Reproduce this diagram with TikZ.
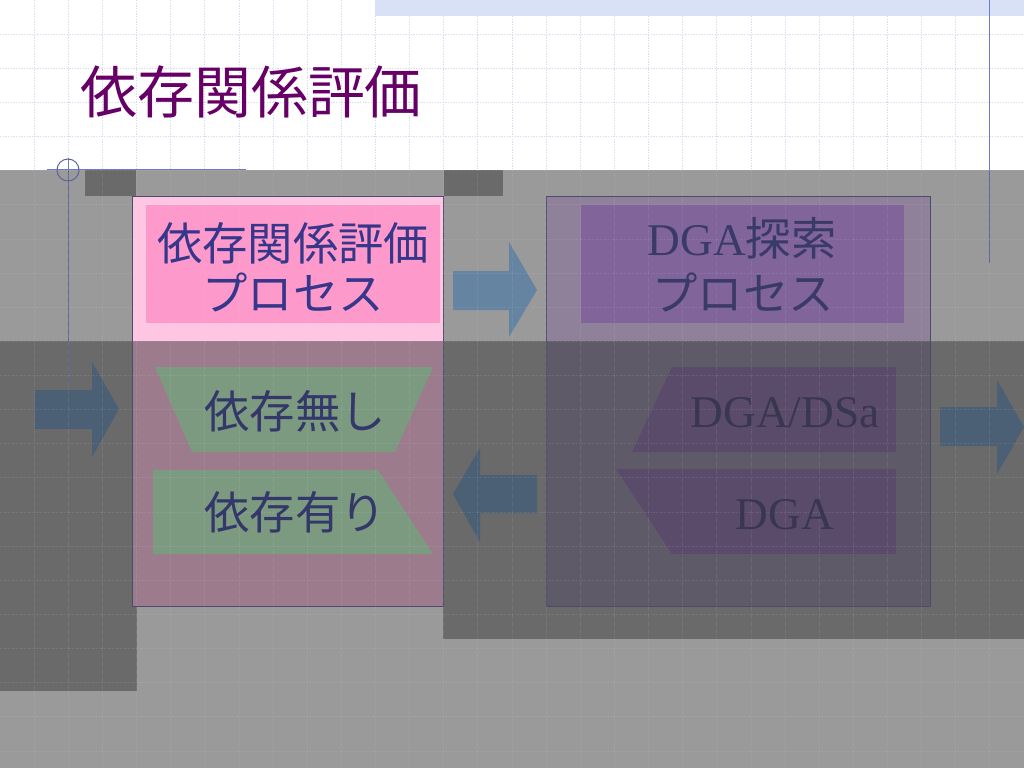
\documentclass[tikz,border=0pt]{standalone}
\usepackage{fontspec}
\setmainfont{Liberation Serif}
\newfontfamily\jp{Noto Sans CJK JP}
\definecolor{titlec}{HTML}{660066}
\definecolor{gridc}{HTML}{D8DCF2}
\definecolor{bandc}{HTML}{D9E1F6}
\definecolor{bluel}{HTML}{6C7BCB}
\definecolor{bluedim}{HTML}{5A6494}
\definecolor{mgray}{HTML}{9A9A9A}
\definecolor{dgray}{HTML}{6A6A6A}
\definecolor{pinklt}{HTML}{FFC6E4}
\definecolor{pinkhot}{HTML}{FD9ACB}
\definecolor{pinkdim}{HTML}{9C7C8C}
\definecolor{purpup}{HTML}{8F8199}
\definecolor{purpin}{HTML}{80649A}
\definecolor{purpdim}{HTML}{5F5A67}
\definecolor{purpshape}{HTML}{5B4B6B}
\definecolor{greenc}{HTML}{7B9A7F}
\definecolor{edgec}{HTML}{4B4B6B}
\definecolor{arrowm}{HTML}{6484A2}
\definecolor{arrowd}{HTML}{4B5F75}
\definecolor{txtpink}{HTML}{36368A}
\definecolor{txtpurp}{HTML}{3A3A68}
\definecolor{txtdim}{HTML}{34376A}
\definecolor{txtdga}{HTML}{393650}
\begin{document}
\begin{tikzpicture}[x=0.75pt,y=-0.75pt,
  gridline/.style={draw=gridc, line width=0.6pt, dash pattern=on 1pt off 1pt},
  gridover/.style={draw=gridc, line width=0.6pt, dash pattern=on 1pt off 1pt, opacity=0.14},
  boxedge/.style={draw=edgec, line width=1.1pt},
  lbl/.style={anchor=base, inner sep=0pt, font=\jp\fontsize{34}{40}\selectfont},
  dgalbl/.style={anchor=base, inner sep=0pt, font=\rmfamily\fontsize{34}{40}\selectfont}]
\useasboundingbox (0,0) rectangle (1024,768);
% background and grid
\fill[white] (0,0) rectangle (1024,768);
\foreach \i in {1,...,30} \draw[gridline] ({\i*34.133},0) -- ({\i*34.133},170);
\foreach \j in {1,...,4} \draw[gridline] (0,{\j*34.133}) -- (1024,{\j*34.133});
\fill[bandc] (375,0) rectangle (1024,16);
\draw[bluel, line width=0.75pt] (989,0) -- (989,170);
\draw[bluel, line width=0.75pt] (47,169) -- (246,169);
% title
\node[anchor=base west, inner sep=0pt, text=titlec, font=\jp\fontsize{42.7}{50}\selectfont] (title) at (80,113.5) {依存関係評価};
% gray overlays
\fill[mgray] (0,170) rectangle (1024,768);
\fill[dgray] (0,341) rectangle (137,691);
\fill[dgray] (443,341) rectangle (1024,639);
\fill[dgray] (85,170) rectangle (136,196);
\fill[dgray] (444,170) rectangle (503,196);
% blue lines in the gray part
\draw[bluedim, line width=0.75pt] (989,170) -- (989,263);
\draw[bluedim, line width=0.75pt] (68,170) -- (68,387);
\draw[bluel, line width=0.75pt] (68,158) -- (68,170);
\draw[bluedim, line width=0.75pt] (68,170) circle[radius=11];
% pink box
\fill[pinklt] (132,196) rectangle (443,341);
\fill[pinkdim] (132,341) rectangle (443,606);
\fill[pinkhot] (146,205) rectangle (440,323);
\node[boxedge, inner sep=0pt, minimum width=311*0.75pt, minimum height=410*0.75pt, anchor=north west] (pinkbox) at (132,196) {};
% purple box
\fill[purpup] (546,196) rectangle (930,341);
\fill[purpdim] (546,341) rectangle (930,606);
\fill[purpin] (581,205) rectangle (904,323);
\node[boxedge, inner sep=0pt, minimum width=384*0.75pt, minimum height=410*0.75pt, anchor=north west] (purpbox) at (546,196) {};
% green shapes
\fill[greenc] (155,367) -- (433,367) -- (395,452) -- (192,452) -- cycle;
\fill[greenc] (153,470) -- (378,470) -- (433,554) -- (153,554) -- cycle;
% purple shapes
\fill[purpshape] (672,367) -- (896,367) -- (896,452) -- (632,452) -- cycle;
\fill[purpshape] (616,469) -- (896,469) -- (896,554) -- (672,554) -- cycle;
% arrows
\fill[arrowd] (35,390) -- (92,390) -- (92,362) -- (119,409) -- (92,457) -- (92,429) -- (35,429) -- cycle;
\fill[arrowm] (453,271) -- (509,271) -- (509,242) -- (537,290) -- (509,337) -- (509,310) -- (453,310) -- cycle;
\fill[arrowd] (537,475) -- (480,475) -- (480,448) -- (453,494) -- (480,542) -- (480,513) -- (537,513) -- cycle;
\fill[arrowd] (940,407) -- (997,407) -- (997,380) -- (1024,427) -- (997,474) -- (997,446) -- (940,446) -- cycle;
% faint grid over the dimmed part
\begin{scope}
\clip (0,170) rectangle (1024,768);
\foreach \i in {1,...,30} \draw[gridover] ({\i*34.133},170) -- ({\i*34.133},768);
\foreach \j in {5,...,22} \draw[gridover] (0,{\j*34.133}) -- (1024,{\j*34.133});
\end{scope}
% texts
\node[lbl, text=txtpink] (pkA) at (293,260) {依存関係評価};
\node[lbl, text=txtpink] (pkB) at (293,310) {プロセス};
\node[dgalbl, text=txtpurp] (puA) at (742,255) {DGA{\jp 探索}};
\node[lbl, text=txtpurp] (puB) at (743,310) {プロセス};
\node[lbl, text=txtdim] (nodep) at (295,428) {依存無し};
\node[lbl, text=txtdim] (dep) at (295,529) {依存有り};
\node[dgalbl, text=txtdga] (dsa) at (785,427) {DGA/DSa};
\node[dgalbl, text=txtdga] (dga) at (785,529) {DGA};
\end{tikzpicture}
\end{document}
